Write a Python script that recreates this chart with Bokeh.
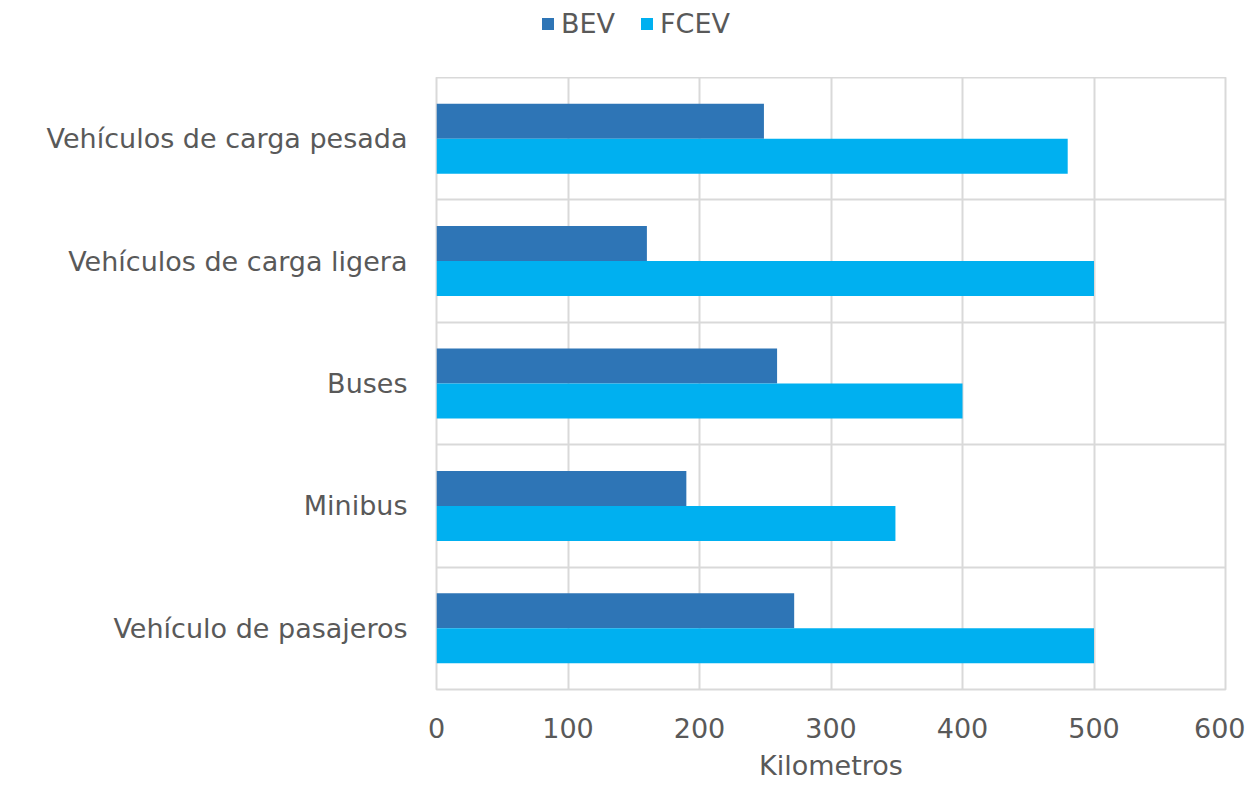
from bokeh.plotting import figure
from bokeh.layouts import column
from bokeh.models import ColumnDataSource, FixedTicker, Legend, LegendItem, Range1d
from bokeh.embed import file_html
from bokeh.resources import INLINE

categories = ["Vehículo de pasajeros", "Minibus", "Buses",
              "Vehículos de carga ligera", "Vehículos de carga pesada"]
bev = [272, 190, 259, 160, 249]
fcev = [500, 349, 400, 500, 480]
series_names = ["BEV", "FCEV"]
series_colors = ["#2E75B6", "#00B0F0"]
x_ticks = [0, 100, 200, 300, 400, 500, 600]

FONT = "DejaVu Sans"
TXT = "#595959"
FS = "27px"

pos = [i + 0.5 for i in range(len(categories))]
bar_h = 0.286
src = ColumnDataSource(dict(
    bev_y=[p_ + bar_h / 2 for p_ in pos],
    fcev_y=[p_ - bar_h / 2 for p_ in pos],
    bev=bev, fcev=fcev, cat=categories))

# ---- legend strip above the chart (its own bars fall outside its range) ----
lg = figure(width=1245, height=77, output_backend="svg", toolbar_location=None,
            x_range=Range1d(0, 600), y_range=Range1d(100, 101),
            x_axis_type=None, y_axis_type=None,
            min_border_left=0, min_border_right=0, min_border_top=0,
            min_border_bottom=0)
lg.outline_line_color = None
lg.xgrid.visible = False
lg.ygrid.visible = False
d1 = lg.hbar(y="bev_y", right="bev", left=0, height=bar_h, source=src,
             fill_color=series_colors[0], line_color=None)
d2 = lg.hbar(y="fcev_y", right="fcev", left=0, height=bar_h, source=src,
             fill_color=series_colors[1], line_color=None)
legend = Legend(items=[LegendItem(label=series_names[0], renderers=[d1]),
                       LegendItem(label=series_names[1], renderers=[d2])],
                orientation="horizontal", location=(104, 38),
                label_text_font=FONT, label_text_font_size=FS,
                label_text_color=TXT, glyph_width=15, glyph_height=15,
                label_standoff=6, spacing=24, border_line_color=None,
                background_fill_alpha=0, padding=0, margin=0)
lg.add_layout(legend, "center")

# ---- main chart ----
p = figure(width=1245, height=708, output_backend="svg", toolbar_location=None,
           x_range=Range1d(0, 600), y_range=Range1d(0, len(categories)),
           min_border_left=436, min_border_right=20, min_border_top=0,
           min_border_bottom=96)

p.hbar(y="bev_y", right="bev", left=0, height=bar_h, source=src,
       fill_color=series_colors[0], line_color=None)
p.hbar(y="fcev_y", right="fcev", left=0, height=bar_h, source=src,
       fill_color=series_colors[1], line_color=None)

p.outline_line_color = "#d9d9d9"
p.outline_line_width = 2

p.xaxis.ticker = FixedTicker(ticks=x_ticks)
p.xgrid.ticker = FixedTicker(ticks=x_ticks)
p.xgrid.grid_line_color = "#d9d9d9"
p.xgrid.grid_line_width = 2
p.ygrid.ticker = FixedTicker(ticks=list(range(len(categories) + 1)))
p.ygrid.grid_line_color = "#d9d9d9"
p.ygrid.grid_line_width = 2

p.yaxis.ticker = FixedTicker(ticks=pos)
p.yaxis.major_label_overrides = {p_: c for p_, c in zip(pos, categories)}

for ax in (p.xaxis, p.yaxis):
    ax.axis_line_color = None
    ax.major_tick_line_color = None
    ax.minor_tick_line_color = None
    ax.major_label_text_font = FONT
    ax.major_label_text_font_size = FS
    ax.major_label_text_color = TXT
p.xaxis.major_label_standoff = 22
p.yaxis.major_label_standoff = 23
p.xaxis.axis_label = "Kilometros"
p.xaxis.axis_label_text_font = FONT
p.xaxis.axis_label_text_font_size = FS
p.xaxis.axis_label_text_font_style = "normal"
p.xaxis.axis_label_text_color = TXT
p.xaxis.axis_label_standoff = 9

layout = column(lg, p, spacing=0)
open("out.html", "w").write(file_html(layout, INLINE))
